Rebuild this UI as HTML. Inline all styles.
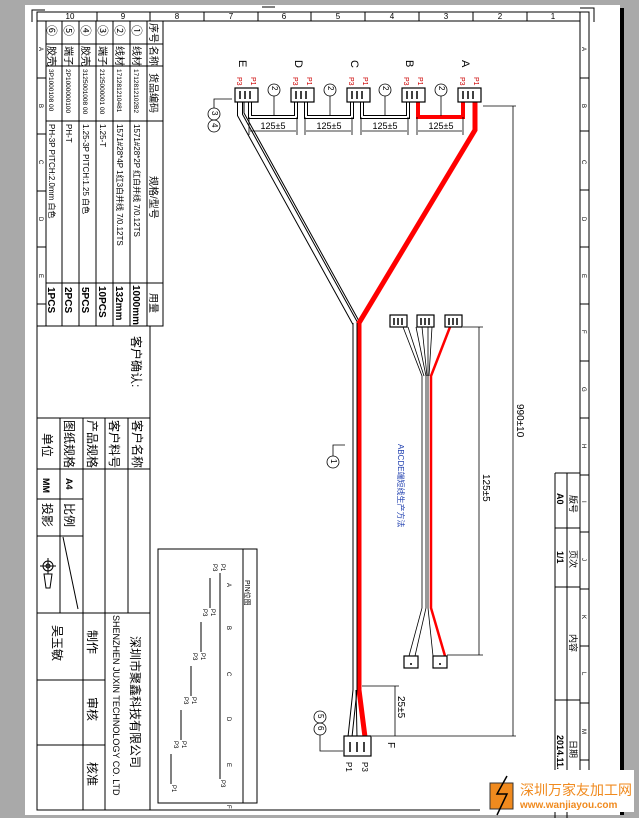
<!DOCTYPE html>
<html><head><meta charset="utf-8"><style>
html,body{margin:0;padding:0;background:#a9a9a9;}
svg{display:block;font-family:"Liberation Sans","Noto Sans CJK SC",sans-serif;}
</style></head><body>
<svg width="639" height="818" viewBox="0 0 639 818" xmlns="http://www.w3.org/2000/svg">
<rect x="0" y="0" width="639" height="818" fill="#a9a9a9"/>
<rect x="25" y="5" width="595" height="810" fill="#fff"/>
<rect x="620" y="8" width="4" height="807" fill="#000"/>
<g fill="none" stroke="#000" stroke-width="1">
<path d="M32 22V10H45"/><path d="M262 7H275"/><path d="M580 8H594V22"/>
<rect x="37" y="12" width="552" height="798"/>
<line x1="37" y1="21" x2="580" y2="21"/>
<line x1="580" y1="12" x2="580" y2="810"/>
<line x1="46" y1="21" x2="46" y2="326"/>
</g>
<g stroke="#000" stroke-width="1">
<line x1="97" y1="12" x2="97" y2="21"/><line x1="150" y1="12" x2="150" y2="21"/><line x1="204" y1="12" x2="204" y2="21"/><line x1="258" y1="12" x2="258" y2="21"/><line x1="311" y1="12" x2="311" y2="21"/><line x1="365" y1="12" x2="365" y2="21"/><line x1="419" y1="12" x2="419" y2="21"/><line x1="473" y1="12" x2="473" y2="21"/><line x1="527" y1="12" x2="527" y2="21"/>
<line x1="580" y1="78" x2="589" y2="78"/><line x1="580" y1="131" x2="589" y2="131"/><line x1="580" y1="190" x2="589" y2="190"/><line x1="580" y1="247" x2="589" y2="247"/><line x1="580" y1="304" x2="589" y2="304"/><line x1="580" y1="361" x2="589" y2="361"/><line x1="580" y1="418" x2="589" y2="418"/><line x1="580" y1="475" x2="589" y2="475"/><line x1="580" y1="532" x2="589" y2="532"/><line x1="580" y1="589" x2="589" y2="589"/><line x1="580" y1="646" x2="589" y2="646"/><line x1="580" y1="703" x2="589" y2="703"/><line x1="580" y1="760" x2="589" y2="760"/>
<line x1="37" y1="78" x2="46" y2="78"/><line x1="37" y1="134" x2="46" y2="134"/><line x1="37" y1="191" x2="46" y2="191"/><line x1="37" y1="247" x2="46" y2="247"/><line x1="37" y1="304" x2="46" y2="304"/>
</g>
<g font-size="8" text-anchor="middle">
<text x="70" y="19">10</text><text x="123" y="19">9</text><text x="177" y="19">8</text><text x="231" y="19">7</text><text x="284" y="19">6</text><text x="338" y="19">5</text><text x="392" y="19">4</text><text x="446" y="19">3</text><text x="500" y="19">2</text><text x="553" y="19">1</text>
</g>
<g font-size="6">
<text transform="translate(582,47) rotate(90)">A</text><text transform="translate(582,104) rotate(90)">B</text><text transform="translate(582,160) rotate(90)">C</text><text transform="translate(582,217) rotate(90)">D</text><text transform="translate(582,274) rotate(90)">E</text><text transform="translate(582,330) rotate(90)">F</text><text transform="translate(582,387) rotate(90)">G</text><text transform="translate(582,444) rotate(90)">H</text><text transform="translate(582,501) rotate(90)">I</text><text transform="translate(582,558) rotate(90)">J</text><text transform="translate(582,615) rotate(90)">K</text><text transform="translate(582,672) rotate(90)">L</text><text transform="translate(582,729) rotate(90)">M</text>
<text transform="translate(39,47) rotate(90)">A</text><text transform="translate(39,104) rotate(90)">B</text><text transform="translate(39,160) rotate(90)">C</text><text transform="translate(39,217) rotate(90)">D</text><text transform="translate(39,274) rotate(90)">E</text>
</g>
<g fill="none" stroke="#000" stroke-width="1">
<rect x="46" y="21" width="117" height="305"/>
<line x1="62" y1="21" x2="62" y2="326"/><line x1="79" y1="21" x2="79" y2="326"/><line x1="96" y1="21" x2="96" y2="326"/><line x1="113" y1="21" x2="113" y2="326"/><line x1="130" y1="21" x2="130" y2="326"/><line x1="147" y1="21" x2="147" y2="326"/>
<line x1="46" y1="44" x2="163" y2="44"/><line x1="46" y1="66" x2="163" y2="66"/><line x1="46" y1="121" x2="163" y2="121"/><line x1="46" y1="283" x2="163" y2="283"/>
</g>
<g font-size="10">
<text transform="translate(150,23) rotate(90)">序号 名称</text>
<text transform="translate(150,73) rotate(90)">货品编码</text>
<text transform="translate(150,176) rotate(90)">规格/型号</text>
<text transform="translate(150,293) rotate(90)">用量</text>
<text transform="translate(133,25) rotate(90)" font-size="11">①</text><text transform="translate(116,25) rotate(90)" font-size="11">②</text><text transform="translate(99,25) rotate(90)" font-size="11">③</text><text transform="translate(82,25) rotate(90)" font-size="11">④</text><text transform="translate(65,25) rotate(90)" font-size="11">⑤</text><text transform="translate(48,25) rotate(90)" font-size="11">⑥</text>
<text transform="translate(133,46) rotate(90)">线材</text><text transform="translate(116,46) rotate(90)">线材</text><text transform="translate(99,46) rotate(90)">端子</text><text transform="translate(82,46) rotate(90)">胶壳</text><text transform="translate(65,46) rotate(90)">端子</text><text transform="translate(48,46) rotate(90)">胶壳</text>
</g>
<g font-size="6.5">
<text transform="translate(134,69) rotate(90)">1712812102B2</text><text transform="translate(117,69) rotate(90)">171281210481</text><text transform="translate(100,69) rotate(90)">2125000001 00</text><text transform="translate(83,69) rotate(90)">3125001008 00</text><text transform="translate(66,69) rotate(90)">2P1000000100</text><text transform="translate(49,69) rotate(90)">3P1000108 00</text>
</g>
<g font-size="8">
<text transform="translate(134,124) rotate(90)">1571#28*2P 红白并线 7/0.12TS</text><text transform="translate(117,124) rotate(90)">1571#28*4P 1红3白并线 7/0.12TS</text><text transform="translate(100,124) rotate(90)">1.25-T</text><text transform="translate(83,124) rotate(90)">1.25-3P PITCH:1.25 白色</text><text transform="translate(66,124) rotate(90)">PH-T</text><text transform="translate(49,124) rotate(90)">PH-3P PITCH:2.0mm 白色</text>
</g>
<g font-size="10" font-weight="bold">
<text transform="translate(133,285) rotate(90)">1000mm</text><text transform="translate(116,286) rotate(90)">132mm</text><text transform="translate(99,286) rotate(90)">10PCS</text><text transform="translate(82,287) rotate(90)">5PCS</text><text transform="translate(65,287) rotate(90)">2PCS</text><text transform="translate(48,287) rotate(90)">1PCS</text>
</g>
<g fill="none" stroke="#000" stroke-width="1">
<line x1="37" y1="326" x2="163" y2="326"/>
<line x1="150" y1="326" x2="150" y2="810"/>
<line x1="37" y1="418" x2="150" y2="418"/><line x1="37" y1="469" x2="150" y2="469"/>
<line x1="60" y1="418" x2="60" y2="613"/><line x1="83" y1="418" x2="83" y2="810"/><line x1="105" y1="418" x2="105" y2="810"/><line x1="128" y1="418" x2="128" y2="613"/>
<line x1="37" y1="499" x2="83" y2="499"/><line x1="37" y1="536" x2="83" y2="536"/>
<line x1="37" y1="613" x2="150" y2="613"/><line x1="37" y1="680" x2="105" y2="680"/><line x1="37" y1="745" x2="105" y2="745"/>
<line x1="63" y1="537" x2="78" y2="609"/>
<circle cx="48" cy="566" r="5"/><circle cx="48" cy="566" r="2"/><line x1="40" y1="566" x2="56" y2="566"/><line x1="48" y1="558" x2="48" y2="574"/>
<path d="M44 574L52 574L50 588L46 588Z"/>
</g>
<g font-size="12">
<text transform="translate(132,336) rotate(90)">客户确认:</text>
<text transform="translate(133,420) rotate(90)">客户名称</text><text transform="translate(110,420) rotate(90)">客户料号</text><text transform="translate(88,420) rotate(90)">产品规格</text><text transform="translate(65,420) rotate(90)">图纸规格</text><text transform="translate(43,433) rotate(90)">单位</text>
<text transform="translate(65,503) rotate(90)">比例</text><text transform="translate(43,503) rotate(90)">投影</text>
<text transform="translate(88,630) rotate(90)">制作</text><text transform="translate(88,697) rotate(90)">审核</text><text transform="translate(88,762) rotate(90)">核准</text>
<text transform="translate(53,625) rotate(90)">吴玉敏</text>
<text transform="translate(131,636) rotate(90)">深圳市聚鑫科技有限公司</text>
</g>
<g font-size="9" font-weight="bold">
<text transform="translate(66,478) rotate(90)">A4</text><text transform="translate(43,478) rotate(90)">MM</text>
<text transform="translate(113,615) rotate(90)" font-weight="normal">SHENZHEN JUXIN TECHNOLOGY CO. LTD</text>
</g>
<g fill="none" stroke="#000" stroke-width="1">
<rect x="158" y="549" width="99" height="254"/><line x1="243" y1="549" x2="243" y2="803"/>
<line x1="220" y1="573" x2="220" y2="779"/>
<line x1="210" y1="578" x2="210" y2="608"/>
<line x1="201" y1="622" x2="201" y2="652"/>
<line x1="191" y1="666" x2="191" y2="696"/>
<line x1="181" y1="710" x2="181" y2="740"/>
<line x1="171" y1="754" x2="171" y2="784"/>
</g>
<g font-size="6">
<text transform="translate(245,580) rotate(90)" font-size="7">PIN位图</text>
<text transform="translate(227,583) rotate(90)">A</text><text transform="translate(227,626) rotate(90)">B</text><text transform="translate(227,672) rotate(90)">C</text><text transform="translate(227,717) rotate(90)">D</text><text transform="translate(227,763) rotate(90)">E</text><text transform="translate(227,805) rotate(90)">F</text>
<text transform="translate(221,564) rotate(90)">P1</text><text transform="translate(213,564) rotate(90)">P3</text><text transform="translate(221,780) rotate(90)">P3</text>
<text transform="translate(211,609) rotate(90)">P1</text><text transform="translate(203,609) rotate(90)">P3</text>
<text transform="translate(201,653) rotate(90)">P1</text><text transform="translate(193,653) rotate(90)">P3</text>
<text transform="translate(192,697) rotate(90)">P1</text><text transform="translate(184,697) rotate(90)">P3</text>
<text transform="translate(182,741) rotate(90)">P1</text><text transform="translate(174,741) rotate(90)">P3</text>
<text transform="translate(172,785) rotate(90)">P1</text>
</g>
<g fill="none" stroke="#000" stroke-width="1">
<line x1="555" y1="473" x2="555" y2="818"/><line x1="567" y1="473" x2="567" y2="818"/>
<line x1="555" y1="473" x2="580" y2="473"/><line x1="555" y1="528" x2="580" y2="528"/><line x1="555" y1="587" x2="580" y2="587"/><line x1="555" y1="700" x2="580" y2="700"/>
</g>
<g font-size="9">
<text transform="translate(570,495) rotate(90)">版号</text><text transform="translate(557,493) rotate(90)" font-weight="bold">A0</text>
<text transform="translate(570,550) rotate(90)">页次</text><text transform="translate(557,551) rotate(90)" font-weight="bold">1/1</text>
<text transform="translate(570,634) rotate(90)">内容</text>
<text transform="translate(570,740) rotate(90)">日期</text><text transform="translate(557,735) rotate(90)" font-weight="bold">2014.11.</text>
</g>
<g fill="none" stroke-linejoin="miter">
<path d="M240 102V115L355 323" stroke="#000" stroke-width="6"/><path d="M240 102V115L355 323" stroke="#fff" stroke-width="4"/>
<path d="M244 102V113L359 321" stroke="#000" stroke-width="1"/>
<path d="M250 102V117H296V102" stroke="#000" stroke-width="4"/><path d="M250 102V117H296V102" stroke="#fff" stroke-width="2"/>
<path d="M306 102V117H352V102" stroke="#000" stroke-width="4"/><path d="M306 102V117H352V102" stroke="#fff" stroke-width="2"/>
<path d="M362 102V117H408V102" stroke="#000" stroke-width="4"/><path d="M362 102V117H408V102" stroke="#fff" stroke-width="2"/>
<path d="M418 102V117H463V102" stroke="#f00" stroke-width="4"/>
<path d="M475 102V130L359 323V690L365 737" stroke="#f00" stroke-width="5"/>
<path d="M355 323V690L350 737" stroke="#000" stroke-width="5"/><path d="M355 323V690L350 737" stroke="#fff" stroke-width="3"/>
<path d="M356 690L357 737" stroke="#000" stroke-width="1"/>
<path d="M403 327L422 376V608L409 656M408 327L424 376M416 327L426 376V608L415 656M422 327L427 376M428 327L428 376V608L433 656M432 327L429 376" stroke="#000" stroke-width="0.8"/>
<path d="M450 327L431 376V608L445 656" stroke="#f00" stroke-width="2.5"/>
</g>
<g fill="#fff" stroke="#000" stroke-width="1.2">
<rect x="235" y="88" width="23" height="14"/><rect x="291" y="88" width="23" height="14"/><rect x="347" y="88" width="23" height="14"/><rect x="402" y="88" width="23" height="14"/><rect x="458" y="88" width="23" height="14"/>
<rect x="390" y="315" width="17" height="12"/><rect x="417" y="315" width="17" height="12"/><rect x="445" y="315" width="17" height="12"/>
<rect x="344" y="736" width="27" height="20"/>
<rect x="404" y="656" width="14" height="12"/><rect x="433" y="656" width="14" height="12"/>
</g>
<g stroke="#000" stroke-width="1.5">
<path d="M240 91v8M245 91v8M250 91v8M296 91v8M301 91v8M306 91v8M352 91v8M357 91v8M362 91v8M407 91v8M412 91v8M417 91v8M463 91v8M468 91v8M473 91v8"/>
<path d="M394 318v7M398 318v7M402 318v7M421 318v7M425 318v7M429 318v7M449 318v7M453 318v7M457 318v7"/>
<path d="M350 742v10M357 742v10M364 742v10"/>
</g>
<g fill="#000"><circle cx="411" cy="664" r="1"/><circle cx="440" cy="664" r="1"/></g>
<g font-size="11" fill="#000">
<text transform="translate(239,60) rotate(90)">E</text><text transform="translate(295,60) rotate(90)">D</text><text transform="translate(351,60) rotate(90)">C</text><text transform="translate(406,60) rotate(90)">B</text><text transform="translate(462,60) rotate(90)">A</text>
</g>
<g font-size="7" fill="#c00">
<text transform="translate(237,77) rotate(90)">P3</text><text transform="translate(251,77) rotate(90)">P1</text><text transform="translate(293,77) rotate(90)">P3</text><text transform="translate(307,77) rotate(90)">P1</text><text transform="translate(349,77) rotate(90)">P3</text><text transform="translate(363,77) rotate(90)">P1</text><text transform="translate(404,77) rotate(90)">P3</text><text transform="translate(418,77) rotate(90)">P1</text><text transform="translate(460,77) rotate(90)">P3</text><text transform="translate(474,77) rotate(90)">P1</text>
</g>
<g fill="none" stroke="#000" stroke-width="0.8">
<circle cx="274" cy="90" r="6"/><circle cx="330" cy="90" r="6"/><circle cx="385" cy="90" r="6"/><circle cx="441" cy="90" r="6"/>
<path d="M274 96V116M330 96V116M385 96V116M441 96V116"/>
<circle cx="214" cy="114" r="6"/><circle cx="214" cy="126" r="6"/><path d="M214 108V99H232"/>
<circle cx="333" cy="462" r="6"/><path d="M333 456V445H345"/>
<circle cx="320" cy="717" r="6"/><circle cx="320" cy="729" r="6"/><path d="M320 735V751H343"/>
<path d="M249 117V135M297 117V135M305 117V135M352 117V135M361 117V135M408 117V135M417 117V135M463 117V135M250 131H296M306 131H351M362 131H407M418 131H462"/>
<path d="M483 106H516M513 106V736M372 736H516"/>
<path d="M463 327H483M479 327V655M447 655H483"/>
<path d="M362 686H399M395 686V736"/>
</g>
<g font-size="8">
<text transform="translate(272,86) rotate(90)">2</text><text transform="translate(328,86) rotate(90)">2</text><text transform="translate(383,86) rotate(90)">2</text><text transform="translate(439,86) rotate(90)">2</text>
<text transform="translate(212,111) rotate(90)">3</text><text transform="translate(212,123) rotate(90)">4</text>
<text transform="translate(331,459) rotate(90)">1</text>
<text transform="translate(318,714) rotate(90)">5</text><text transform="translate(318,726) rotate(90)">6</text>
</g>
<g font-size="9" text-anchor="middle"><text x="273" y="129">125±5</text><text x="329" y="129">125±5</text><text x="385" y="129">125±5</text><text x="441" y="129">125±5</text></g>
<g font-size="10">
<text transform="translate(517,404) rotate(90)">990±10</text>
<text transform="translate(483,474) rotate(90)">125±5</text>
<text transform="translate(398,696) rotate(90)">25±5</text>
<text transform="translate(388,742) rotate(90)">F</text>
<text transform="translate(346,762) rotate(90)" font-size="8">P1</text><text transform="translate(362,762) rotate(90)" font-size="8">P3</text>
<text transform="translate(398,444) rotate(90)" font-size="8" fill="#1f3faf">ABCDE端短线生产方法</text>
</g>
<rect x="480" y="770" width="154" height="42" fill="#fff"/>
<rect x="490" y="783" width="23" height="26" fill="#f08a1e" stroke="#333"/>
<path d="M507 776L497 794L507 794L497 815" fill="none" stroke="#000" stroke-width="1.5"/>
<text x="520" y="795" font-size="14" fill="#f08a1e">深圳万家友加工网</text>
<text x="520" y="808" font-size="10" font-weight="bold" fill="#f08a1e">www.wanjiayou.com</text>
</svg>
</body></html>
